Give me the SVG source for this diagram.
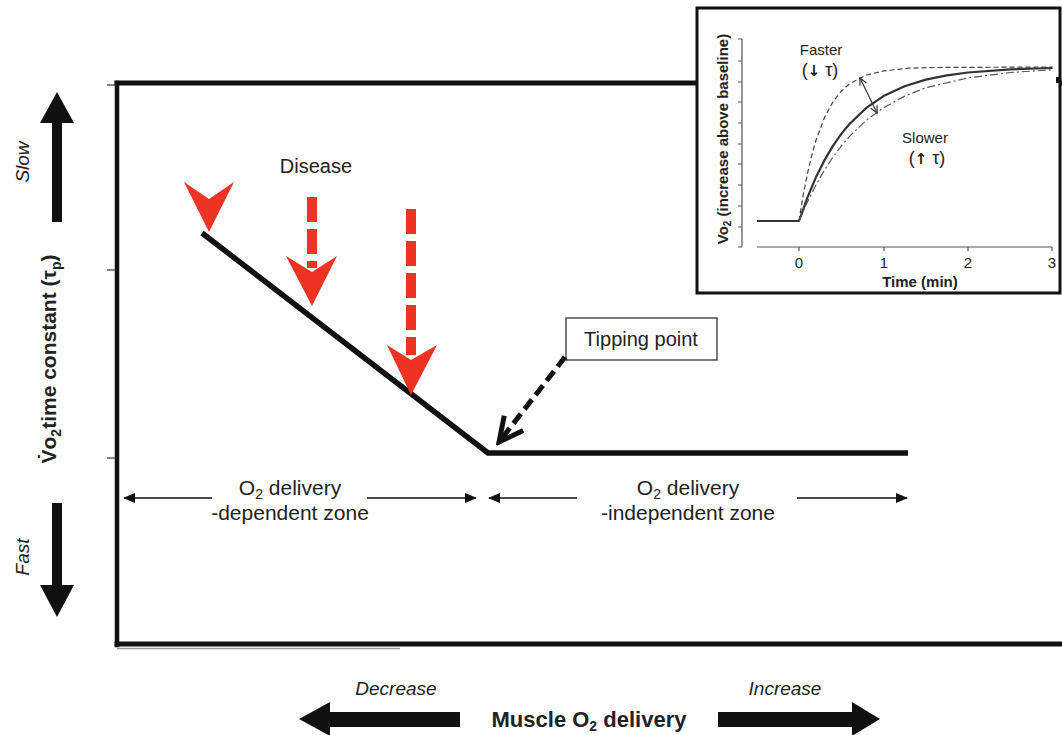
<svg xmlns="http://www.w3.org/2000/svg" width="1062" height="735" viewBox="0 0 1062 735">
<style>
text{font-family:"Liberation Sans",Arial,sans-serif;fill:#222}
.b{font-weight:bold}
.i{font-style:italic}
.arr{font-family:"DejaVu Sans",sans-serif;font-weight:bold;fill:#222}
.frame{stroke:#111;fill:none;stroke-linecap:square}
.red{fill:#ee3224}
.redshaft{stroke:#ee3224;stroke-width:10;stroke-dasharray:25 7;fill:none}
.zone{stroke:#111;stroke-width:1.6;fill:none}
.curve{fill:none;stroke-linejoin:round}
</style>
<defs>
<marker id="tri" markerUnits="userSpaceOnUse" viewBox="0 0 12 10" refX="11" refY="5" markerWidth="12" markerHeight="10" orient="auto-start-reverse">
<path d="M0,0 L12,5 L0,10 Z" fill="#111"/>
</marker>
<marker id="chev" markerUnits="userSpaceOnUse" viewBox="-30 -16 34 32" refX="0" refY="0" markerWidth="34" markerHeight="32" orient="auto">
<path d="M-24,-12 L0,0 L-24,12" fill="none" stroke="#111" stroke-width="5"/>
</marker>
<marker id="small" markerUnits="userSpaceOnUse" viewBox="-10 -6 12 12" refX="0" refY="0" markerWidth="12" markerHeight="12" orient="auto-start-reverse">
<path d="M-7,-3.5 L0,0 L-7,3.5" fill="none" stroke="#333" stroke-width="1.2"/>
</marker>
</defs>
<rect width="1062" height="735" fill="#fff"/>

<g id="frame">
<line class="frame" x1="117" y1="83" x2="1062" y2="83" stroke-width="5"/>
<line class="frame" x1="117" y1="83" x2="117" y2="645" stroke-width="4.5"/>
<line class="frame" x1="117" y1="644" x2="1062" y2="644" stroke-width="5"/>
<line x1="117" y1="648.5" x2="400" y2="648.5" stroke="#999" stroke-width="1.5"/>
<line x1="107" y1="85" x2="117" y2="85" stroke="#333" stroke-width="1.2"/>
<line x1="107" y1="270" x2="117" y2="270" stroke="#333" stroke-width="1.2"/>
<line x1="107" y1="458" x2="117" y2="458" stroke="#333" stroke-width="1.2"/>
</g>

<g id="y-axis-label">
<polygon points="57,92 74,123 62,123 62,222 52,222 52,123 40,123" fill="#111"/>
<polygon points="57,617 74,585 62,585 62,503 52,503 52,585 40,585" fill="#111"/>
<text class="i" font-size="19" text-anchor="middle" transform="translate(29,162) rotate(-90)">Slow</text>
<text class="i" font-size="19" text-anchor="middle" transform="translate(29,557) rotate(-90)">Fast</text>
<text class="b" font-size="21" text-anchor="middle" transform="translate(56,359) rotate(-90)">V̇o<tspan font-size="14" dy="5">2</tspan><tspan dy="-5">time constant (τ</tspan><tspan font-size="14" dy="5">p</tspan><tspan dy="-5">)</tspan></text>
</g>

<g id="curve-main">
<polyline points="202,233 488,453 908,453" fill="none" stroke="#111" stroke-width="5.5" stroke-linejoin="miter"/>
</g>

<g id="disease">
<text font-size="20" x="316" y="173" text-anchor="middle">Disease</text>
<polygon class="red" points="184,182 209,199 234,182 209,232"/>
<line class="redshaft" x1="312" y1="197" x2="312" y2="268"/>
<polygon class="red" points="286,256 312,272 337,256 312,306"/>
<line class="redshaft" x1="411" y1="209" x2="411" y2="355"/>
<polygon class="red" points="387,345 411,360 437,345 411,395"/>
</g>

<g id="tipping-point">
<rect x="566" y="318" width="151" height="42" fill="#fff" stroke="#333" stroke-width="1.3"/>
<text font-size="20" x="641" y="346" text-anchor="middle">Tipping point</text>
</g>

<g id="connectors">
<line x1="565" y1="357" x2="499" y2="442" stroke="#111" stroke-width="5" stroke-dasharray="12 6" marker-end="url(#chev)"/>
<line class="zone" x1="124" y1="498" x2="212" y2="498" marker-start="url(#tri)"/>
<line class="zone" x1="367" y1="498" x2="476" y2="498" marker-end="url(#tri)"/>
<line class="zone" x1="489" y1="498" x2="577" y2="498" marker-start="url(#tri)"/>
<line class="zone" x1="797" y1="498" x2="907" y2="498" marker-end="url(#tri)"/>
</g>

<g id="zone-dependent">
<text font-size="21" x="290" y="495" text-anchor="middle">O<tspan font-size="14" dy="4">2</tspan><tspan dy="-4"> delivery</tspan></text>
<text font-size="21" x="290" y="520" text-anchor="middle">-dependent zone</text>
</g>
<g id="zone-independent">
<text font-size="21" x="688" y="495" text-anchor="middle">O<tspan font-size="14" dy="4">2</tspan><tspan dy="-4"> delivery</tspan></text>
<text font-size="21" x="688" y="520" text-anchor="middle">-independent zone</text>
</g>

<g id="x-axis-label">
<text class="i" font-size="19" x="396" y="695" text-anchor="middle">Decrease</text>
<text class="i" font-size="19" x="785" y="695" text-anchor="middle">Increase</text>
<polygon points="299,719 330,702 330,712 460,712 460,727 330,727 330,736" fill="#111"/>
<polygon points="880,719 852,702 852,712 718,712 718,727 852,727 852,736" fill="#111"/>
<text class="b" font-size="22" x="589" y="727" text-anchor="middle">Muscle O<tspan font-size="14" dy="4">2</tspan><tspan dy="-4"> delivery</tspan></text>
</g>

<g id="inset">
<rect x="697" y="8" width="363" height="285" fill="#fff" stroke="#111" stroke-width="3"/>
<rect x="1056" y="77" width="4" height="6" fill="#111"/>
<g stroke="#555" stroke-width="1.2">
<line x1="742" y1="39" x2="742" y2="247"/>
<line x1="757" y1="247" x2="1052" y2="247"/>
<path d="M738,39h4M738,61h4M738,82h4M738,102h4M738,123h4M738,144h4M738,164h4M738,185h4M738,206h4M738,227h4M738,247h4M799,247v4M884,247v4M968,247v4M1052,247v4"/>
</g>
<text class="b" font-size="15" text-anchor="middle" transform="translate(728,139) rotate(-90)">Vo<tspan font-size="10" dy="3">2</tspan><tspan dy="-3"> (increase above baseline)</tspan></text>
<g font-size="15" text-anchor="middle">
<text x="799" y="268">0</text>
<text x="884" y="268">1</text>
<text x="968" y="268">2</text>
<text x="1052" y="268">3</text>
</g>
<text class="b" font-size="15" x="920" y="287" text-anchor="middle">Time (min)</text>
<text font-size="15" x="821" y="55" text-anchor="middle">Faster</text>
<text font-size="18" x="820" y="76" text-anchor="middle">(<tspan class="arr" font-size="15">↓</tspan> τ)</text>
<text font-size="15" x="925" y="143" text-anchor="middle">Slower</text>
<text font-size="18" x="927" y="164" text-anchor="middle">(<tspan class="arr" font-size="15">↑</tspan> τ)</text>
<polyline class="curve" stroke="#333" stroke-width="2.2" points="757,221 799,221 807.5,197.4 815.9,177.3 824.4,160.4 832.8,146.1 841.3,133.9 849.7,123.7 866.6,107.6 883.5,96.1 904.6,86.2 925.8,79.6 946.9,75.3 968,72.5 1010.3,69.4 1052.5,68"/>
<polyline class="curve" stroke="#444" stroke-width="1.2" stroke-dasharray="5 3" points="799,221 803.2,195 807.5,173.4 811.7,155.4 815.9,140.5 824.4,117.7 832.8,102 841.3,91.2 849.7,83.6 866.6,75 883.5,70.9 908.9,68.2 934.2,67.5 1052.5,67"/>
<polyline class="curve" stroke="#555" stroke-width="1.2" stroke-dasharray="8 3 2 3" points="799,221 807.5,201.8 815.9,185 824.4,170.2 832.8,157.4 841.3,146 849.7,136.1 866.6,120 883.5,107.7 904.6,96.1 925.8,87.8 968,77.8 1010.3,72.5 1052.5,69.8"/>
<line x1="860" y1="78" x2="877" y2="113" stroke="#333" stroke-width="1.2" marker-start="url(#small)" marker-end="url(#small)"/>
</g>
</svg>
